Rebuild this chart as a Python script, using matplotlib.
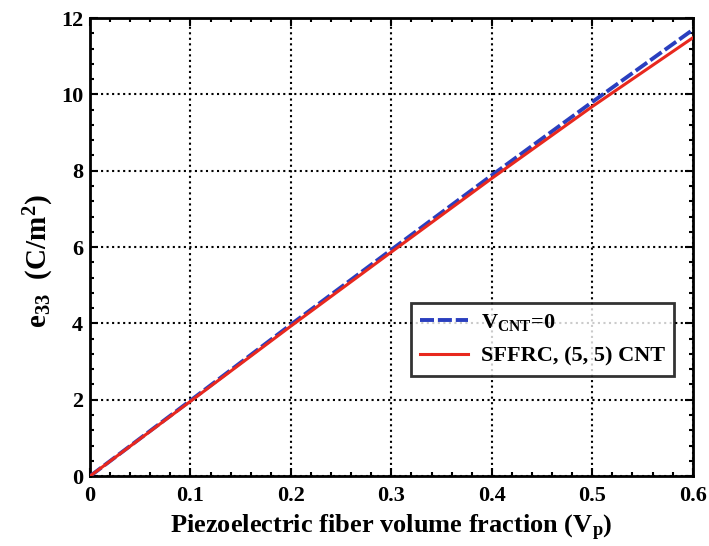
import matplotlib
matplotlib.use("Agg")
import matplotlib.pyplot as plt
from matplotlib.ticker import MultipleLocator

plt.rcParams['font.family'] = ['Liberation Serif', 'DejaVu Serif']
plt.rcParams['font.weight'] = 'bold'
plt.rcParams['axes.labelweight'] = 'bold'
plt.rcParams['mathtext.fontset'] = 'custom'
plt.rcParams['mathtext.rm'] = 'Liberation Serif:bold'
plt.rcParams['mathtext.it'] = 'Liberation Serif:bold'
plt.rcParams['mathtext.bf'] = 'Liberation Serif:bold'

vp = [0.0, 0.1, 0.2, 0.3, 0.4, 0.5, 0.6]
e33_no_cnt = [0.0, 1.98, 3.97, 5.93, 7.88, 9.80, 11.69]
e33_sffrc = [0.0, 1.96, 3.93, 5.87, 7.80, 9.68, 11.48]
xtick_labels = ['0', '0.1', '0.2', '0.3', '0.4', '0.5', '0.6']

fig = plt.figure(figsize=(7.09, 5.46), dpi=100)
ax = fig.add_axes([0.127, 0.128, 0.850, 0.839])

ax.plot(vp, e33_no_cnt, color='#2a3fbf', linestyle='--', linewidth=2.8,
        dashes=(3.6, 1.0), label=r'V$_{\mathrm{CNT}}$=0', zorder=3)
ax.plot(vp, e33_sffrc, color='#e8281e', linestyle='-', linewidth=2.2,
        label='SFFRC, (5, 5) CNT', zorder=4)

ax.set_xlim(0, 0.6)
ax.set_ylim(0, 12)
ax.set_xticks(vp, xtick_labels)
ax.xaxis.set_minor_locator(MultipleLocator(0.02))
ax.yaxis.set_major_locator(MultipleLocator(2))
ax.yaxis.set_minor_locator(MultipleLocator(0.4))
ax.tick_params(which='both', direction='in', top=True, right=True,
               labelsize=16, width=1.5)
ax.tick_params(which='major', length=6)
ax.tick_params(which='minor', length=3)
ax.tick_params(axis='x', pad=7)
ax.tick_params(axis='y', pad=5)
ax.grid(True, which='major', color='black', linestyle=':', linewidth=1.5)
for s in ax.spines.values():
    s.set_linewidth(2)

ax.set_xlabel(r'Piezoelectric fiber volume fraction (V$_{\mathrm{p}}$)',
              fontsize=19, labelpad=5)
ax.set_ylabel(r'e$_{\mathrm{33}}$  (C/m$^{\mathrm{2}}$)', fontsize=21)
ax.yaxis.set_label_coords(-0.057, 0.469)

leg = ax.legend(loc='upper left', bbox_to_anchor=(0.532, 0.378), fontsize=16,
                frameon=True, fancybox=False, edgecolor='black',
                handlelength=2.2, borderpad=0.4, labelspacing=0.6,
                handletextpad=0.55, borderaxespad=0)
leg.get_frame().set_linewidth(2)

fig.savefig('out.png', dpi=100)
